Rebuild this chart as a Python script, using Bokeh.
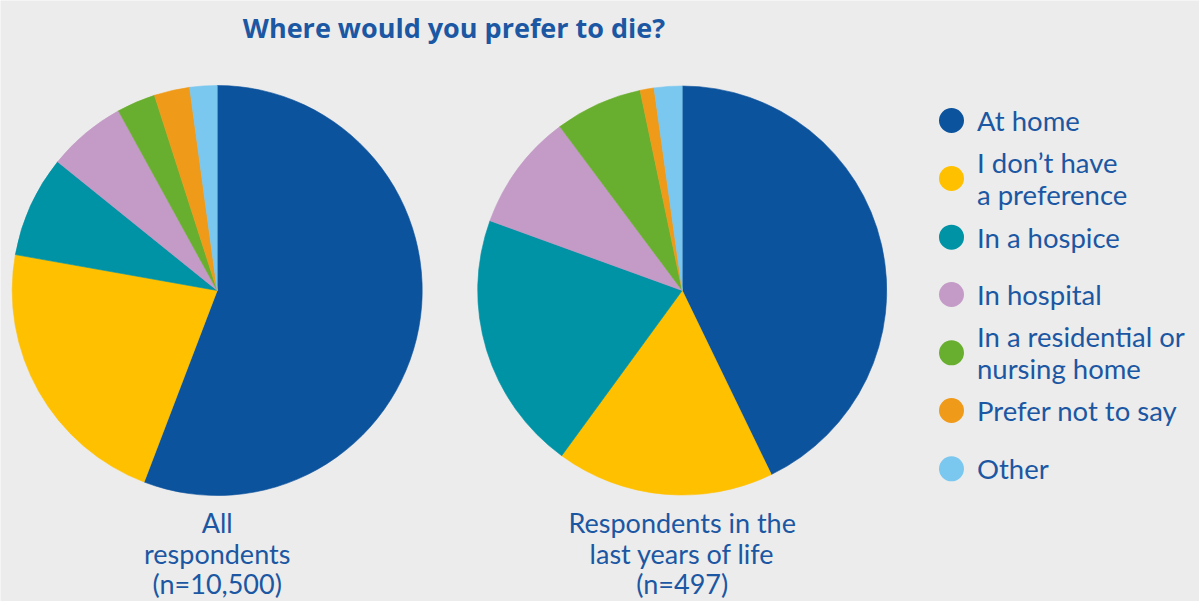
import math
from bokeh.plotting import figure
from bokeh.models import Range1d, ColumnDataSource
from bokeh.core.properties import value
from bokeh.embed import file_html
from bokeh.resources import INLINE

# ---- data ----
categories = ["At home", "I don\u2019t have a preference", "In a hospice", "In hospital",
              "In a residential or nursing home", "Prefer not to say", "Other"]
legend_lines = [["At home"], ["I don\u2019t have", "a preference"], ["In a hospice"],
                ["In hospital"], ["In a residential or", "nursing home"],
                ["Prefer not to say"], ["Other"]]
colors = ["#0c539d", "#ffc000", "#0092a5", "#c39bc6", "#69af2f", "#f09a19", "#7ac7ef"]
all_respondents = [55.8, 22.0, 8.0, 6.2, 3.05, 2.8, 2.15]
last_years = [42.8, 17.2, 20.5, 9.25, 6.9, 1.1, 2.2]
pie_labels = [["All", "respondents", "(n=10,500)"],
              ["Respondents in the", "last years of life", "(n=497)"]]
title = "Where would you prefer to die?"

W, H = 1199, 601
BG = "#ececec"
TEXT = "#1b57a2"
FONT = "Lato"

p = figure(width=W, height=H, x_range=Range1d(0, W), y_range=Range1d(0, H),
           output_backend="svg", toolbar_location=None, min_border=0,
           x_axis_type=None, y_axis_type=None,
           background_fill_color=BG, border_fill_color=BG, outline_line_color=None)
p.grid.visible = False

def Y(py):
    return H - py

def pie(values, cx, cy, r):
    total = float(sum(values))
    starts, ends = [], []
    cum = 0.0
    for v in values:
        a0 = math.pi / 2 - 2 * math.pi * cum / total
        cum += v
        a1 = math.pi / 2 - 2 * math.pi * cum / total
        starts.append(a1)
        ends.append(a0)
    src = ColumnDataSource(dict(x=[cx] * len(values), y=[Y(cy)] * len(values),
                                start=starts, end=ends, color=colors))
    p.wedge(x="x", y="y", radius=r, start_angle="start", end_angle="end",
            fill_color="color", line_color="color", line_width=0.6, source=src)

pie(all_respondents, 216.7, 290, 205)
pie(last_years, 681.7, 290, 204.5)

# title
p.text(x=[453.5], y=[Y(27)], text=[title], text_font=value("Open Sans"), text_font_style="bold",
       text_font_size="27px", text_color=TEXT, text_align="center", text_baseline="middle")

# pie labels
label_rows = [522, 553, 583]
for cx, lines in zip([216.7, 681.7], pie_labels):
    p.text(x=[cx] * len(lines), y=[Y(v) for v in label_rows[:len(lines)]], text=lines,
           text_font=value(FONT), text_font_size="27px", text_color=TEXT,
           text_align="center", text_baseline="middle")

# legend
circle_y = [120, 178, 236.7, 294, 352.3, 410, 468.3]
line_gap = 32
lx, ly, lt = [], [], []
for cy, lines in zip(circle_y, legend_lines):
    n = len(lines)
    for i, t in enumerate(lines):
        lx.append(976.5)
        ly.append(Y(cy + (i - (n - 1) / 2) * line_gap))
        lt.append(t)
p.scatter(x=[951] * len(colors), y=[Y(v) for v in circle_y], size=25, marker="circle",
          fill_color=colors, line_color=None)
p.text(x=lx, y=ly, text=lt, text_font=value(FONT), text_font_size="27.5px", text_color=TEXT,
       text_align="left", text_baseline="middle")

open("out.html", "w").write(file_html(p, INLINE))
